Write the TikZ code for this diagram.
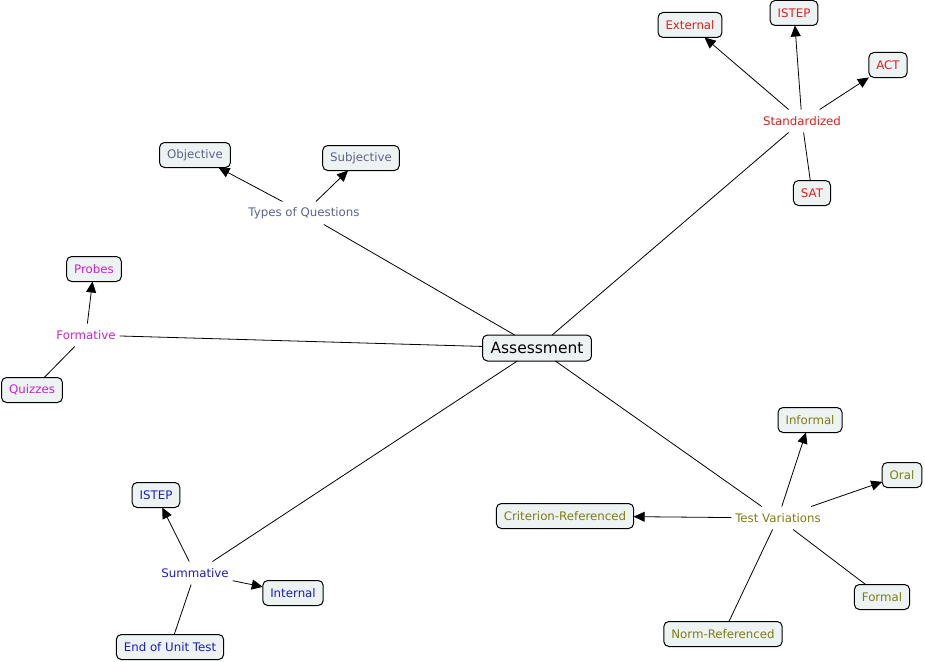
\documentclass[tikz,border=0pt]{standalone}
\usepackage{fontspec}
\setmainfont{DejaVu Sans}
\usetikzlibrary{arrows.meta}
\definecolor{cred}{HTML}{E81C1C}
\definecolor{cslate}{HTML}{5C6488}
\definecolor{cmag}{HTML}{D21ED2}
\definecolor{cblue}{HTML}{1C1CC8}
\definecolor{colive}{HTML}{7E7E10}
\definecolor{boxfill}{HTML}{EDF2F3}
\tikzset{
  concept/.style={draw=black, fill=boxfill, rounded corners=5pt, line width=1pt,
    font=\fontsize{11.8}{14}\selectfont, inner xsep=7.5pt, inner ysep=0pt,
    minimum height=25pt, outer sep=0pt},
  phrase/.style={font=\fontsize{11.8}{14}\selectfont, inner sep=0pt, minimum height=13pt, minimum width=0pt, outer xsep=4pt, outer ysep=5pt},
  link/.style={line width=0.8pt, draw=black},
  arr/.style={link, -{Triangle[length=11pt,width=10pt]}},
}
\begin{document}
\begin{tikzpicture}[x=1pt,y=1pt]
\useasboundingbox (0,0) rectangle (925,-661);
% central
\node[concept, font=\fontsize{15.5}{18}\selectfont, minimum height=26pt, inner xsep=8pt] (asm) at (537,-348) {Assessment};
% standardized
\node[phrase, text=cred] (std) at (802,-121) {Standardized};
\node[concept, text=cred] (ext) at (690,-25) {External};
\node[concept, text=cred] (istepa) at (794,-13) {ISTEP};
\node[concept, text=cred] (act) at (888,-65) {ACT};
\node[concept, text=cred] (sat) at (812,-193) {SAT};
% types of questions
\node[phrase, text=cslate] (toq) at (304,-213) {Types of Questions};
\node[concept, text=cslate] (obj) at (195,-155) {Objective};
\node[concept, text=cslate] (subj) at (361,-158) {Subjective};
% formative
\node[phrase, text=cmag] (form) at (86,-335) {Formative};
\node[concept, text=cmag] (prob) at (94,-269) {Probes};
\node[concept, text=cmag] (quiz) at (32,-390) {Quizzes};
% summative
\node[phrase, text=cblue] (sum) at (195,-573) {Summative};
\node[concept, text=cblue] (istepb) at (156,-495) {ISTEP};
\node[concept, text=cblue] (intl) at (293,-593) {Internal};
\node[concept, text=cblue] (eut) at (170,-647) {End of Unit Test};
% test variations
\node[phrase, text=colive] (tv) at (778,-518) {Test Variations};
\node[concept, text=colive] (inf) at (810,-420) {Informal};
\node[concept, text=colive] (oral) at (902,-475) {Oral};
\node[concept, text=colive] (crit) at (565,-516) {Criterion-Referenced};
\node[concept, text=colive] (fml) at (882,-597) {Formal};
\node[concept, text=colive] (norm) at (723,-634) {Norm-Referenced};
% connectors
\draw[link] (asm) -- (std);
\draw[link] (asm) -- (toq);
\draw[link] (asm) -- (form);
\draw[link] (asm) -- (sum);
\draw[link] (asm) -- (tv);
\draw[arr] (std) -- (ext);
\draw[arr] (std) -- (istepa);
\draw[arr] (std) -- (act);
\draw[link] (sat) -- (std);
\draw[arr] (toq) -- (obj);
\draw[arr] (toq) -- (subj);
\draw[arr] (form) -- (prob);
\draw[link] (quiz) -- (form);
\draw[arr] (sum) -- (istepb);
\draw[arr] (sum) -- (intl);
\draw[link] (eut) -- (sum);
\draw[arr] (tv) -- (inf);
\draw[arr] (tv) -- (oral);
\draw[arr] (tv) -- (crit);
\draw[link] (fml) -- (tv);
\draw[link] (norm) -- (tv);
\end{tikzpicture}
\end{document}
